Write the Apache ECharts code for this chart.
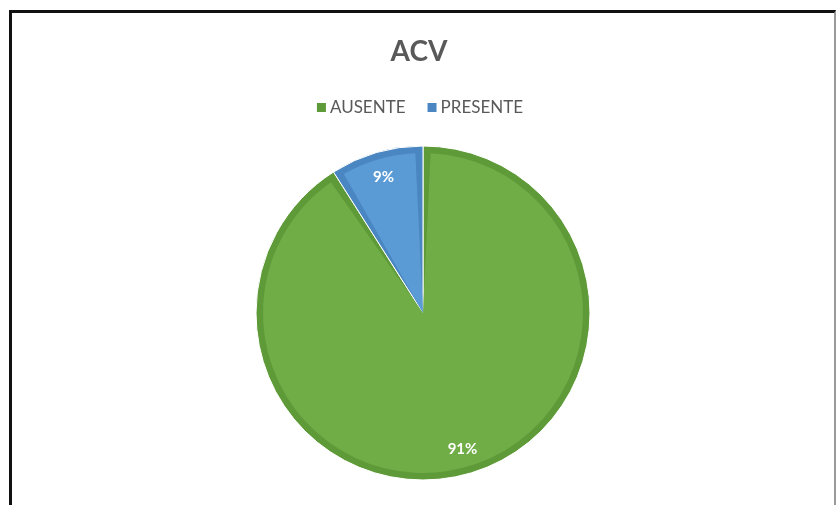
<!DOCTYPE html>
<html>
<head>
<meta charset="utf-8">
<script src="https://cdn.jsdelivr.net/npm/echarts@6/dist/echarts.min.js"></script>
<style>
    html, body { margin: 0; padding: 0; background: #fff; }
    #frame {
        position: absolute; left: 9px; top: 10px; width: 822px; height: 500px;
        border-top: 3px solid #111; border-left: 3px solid #111; border-right: 2px solid #9a9a9a;
    }
    #chart { position: absolute; left: 0; top: 0; width: 838px; height: 505px; }
</style>
</head>
<body>
<div id="frame"></div>
<div id="chart"></div>
<script>
// datos del grafico
var titleText = "ACV";
var categories = ["AUSENTE", "PRESENTE"];
var values = [91, 9];
var fillColors = ["#70AD47", "#5B9BD5"];
var edgeColors = ["#5E9A38", "#4A87C2"];

var fontName = "Lato, 'Open Sans', sans-serif";

// armar datos por serie
function buildData(colors) {
    var arr = [];
    for (var i = 0; i < categories.length; i++) {
        arr.push({ name: categories[i], value: values[i], itemStyle: { color: colors[i] } });
    }
    return arr;
}

var myChart = echarts.init(document.getElementById('chart'));
var center = [423, 313];

var option = {
    backgroundColor: 'transparent',
    animation: false,
    title: {
        text: titleText,
        left: 'center',
        top: 33,
        textStyle: { fontFamily: fontName, fontSize: 28, fontWeight: 'bold', color: '#595959' }
    },
    legend: {
        data: categories,
        top: 94,
        left: 'center',
        icon: 'rect',
        itemWidth: 11,
        itemHeight: 11,
        itemGap: 20,
        textStyle: { fontFamily: fontName, fontSize: 17, color: '#595959', padding: [0, 0, 0, -2] }
    },
    series: [
        {
            // borde oscuro
            type: 'pie',
            center: center,
            radius: 167,
            startAngle: 90,
            silent: true,
            label: { show: false },
            labelLine: { show: false },
            itemStyle: { borderColor: '#ffffff', borderWidth: 1 },
            data: buildData(edgeColors)
        },
        {
            // relleno claro
            type: 'pie',
            center: center,
            radius: 160,
            startAngle: 90,
            padAngle: 5.5,
            silent: true,
            label: { show: false },
            labelLine: { show: false },
            data: buildData(fillColors)
        },
        {
            // etiquetas
            type: 'pie',
            center: center,
            radius: [110, 167],
            startAngle: 90,
            silent: true,
            itemStyle: { color: 'rgba(0,0,0,0)' },
            label: {
                show: true,
                position: 'inside',
                formatter: '{d}%',
                fontFamily: fontName,
                fontSize: 15,
                fontWeight: 'bold',
                color: '#ffffff'
            },
            labelLine: { show: false },
            data: values.map(function (v, i) { return { name: categories[i], value: v }; })
        }
    ]
};

// la leyenda toma color de la primera serie
myChart.setOption(option);
</script>
</body>
</html>
